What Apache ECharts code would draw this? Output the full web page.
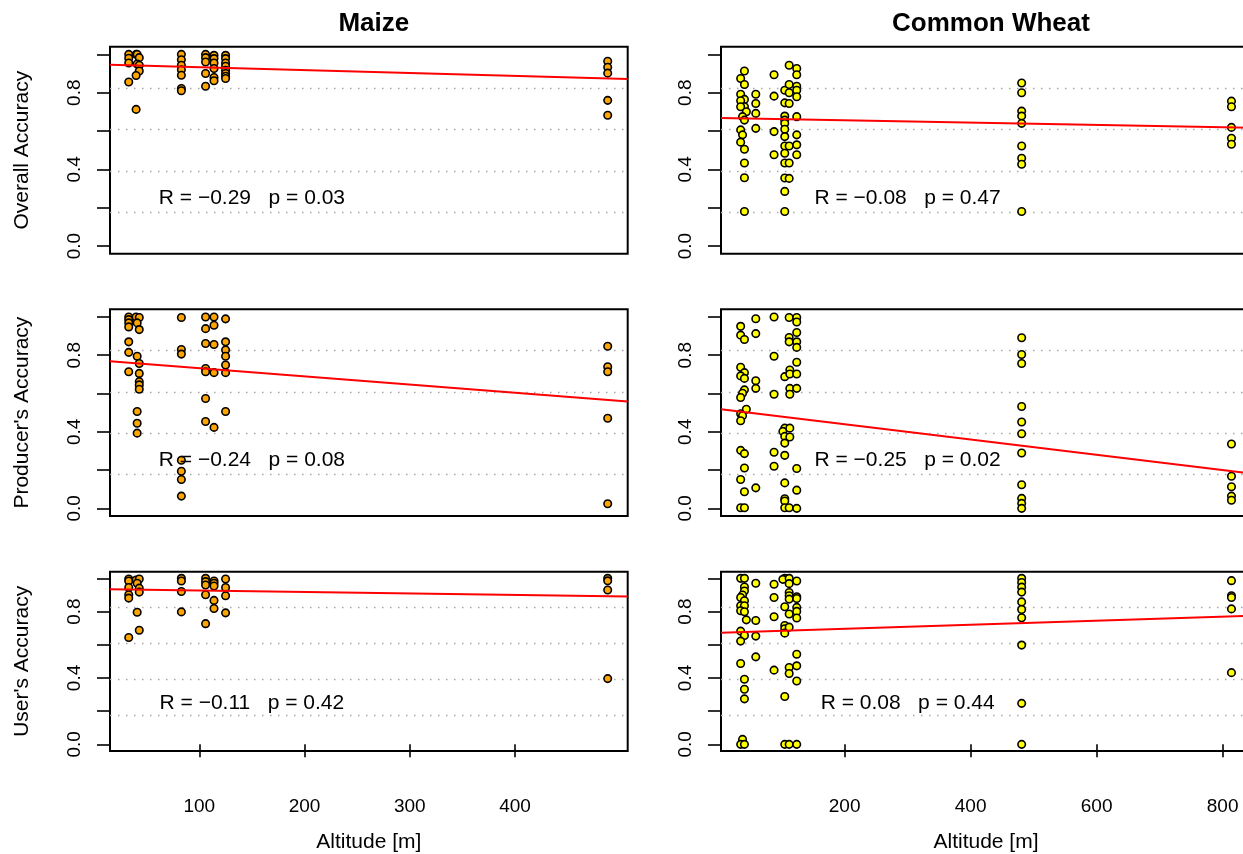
<!DOCTYPE html>
<html>
<head>
<meta charset="utf-8">
<script src="https://cdn.jsdelivr.net/npm/echarts@6/dist/echarts.min.js"></script>
<style>
  html, body { margin: 0; padding: 0; overflow: hidden; background: #ffffff; }
  #chart { width: 1262px; height: 854px; }
</style>
</head>
<body>
<div id="chart"></div>
<script>
// ---- data: [altitude (m), accuracy] per sample ----
const maizeOverall = [
  [33,1.0],[33,0.98],[33,0.955],[33,0.856],
  [40,1.0],[41,1.0],[43,0.983],[41,0.95],[43,0.943],[43,0.913],[40,0.89],[40,0.713],
  [83,1.0],[83,0.972],[83,0.943],[83,0.92],[83,0.891],[83,0.822],[83,0.81],
  [106,1.0],[106,0.983],[106,0.96],[106,0.9],[106,0.834],
  [114,0.995],[114,0.978],[114,0.955],[114,0.926],[114,0.879],[114,0.862],
  [125,0.995],[125,0.978],[125,0.955],[125,0.938],[125,0.917],[125,0.9],[125,0.886],[125,0.874],
  [488,0.964],[488,0.933],[488,0.902],[488,0.76],[488,0.682]
];
const maizeProducer = [
  [33,1.0],[33,0.986],[33,0.969],[33,0.948],[33,0.87],[33,0.815],[33,0.714],
  [40,1.0],[43,0.997],[41,0.969],[43,0.934],[41,0.795],[43,0.757],[43,0.705],[43,0.662],[43,0.645],[43,0.622],
  [41,0.506],[41,0.445],[41,0.393],
  [83,0.997],[83,0.83],[83,0.806],[83,0.251],[83,0.194],[83,0.151],[83,0.064],
  [106,1.0],[106,0.939],[106,0.861],[106,0.731],[106,0.714],[106,0.574],[106,0.454],
  [114,1.0],[114,0.957],[114,0.856],[114,0.709],[114,0.423],
  [125,0.99],[125,0.87],[125,0.827],[125,0.795],[125,0.749],[125,0.709],[125,0.506],
  [488,0.847],[488,0.74],[488,0.714],[488,0.471],[488,0.024]
];
const maizeUser = [
  [33,0.996],[33,0.984],[33,0.945],[33,0.901],[33,0.881],[33,0.644],
  [40,0.99],[43,0.996],[41,0.97],[43,0.941],[43,0.917],[41,0.796],[43,0.687],
  [83,1.0],[83,0.984],[83,0.921],[83,0.798],
  [106,1.0],[106,0.98],[106,0.96],[106,0.901],[106,0.727],
  [114,0.984],[114,0.97],[114,0.954],[114,0.867],[114,0.818],
  [125,0.996],[125,0.945],[125,0.895],[125,0.792],
  [488,1.0],[488,0.985],[488,0.93],[488,0.396]
];
const wheatOverall = [
  [41,0.913],[35,0.874],[41,0.843],[35,0.792],[41,0.765],[35,0.758],[41,0.727],[35,0.727],[44,0.701],
  [38,0.675],[41,0.657],[35,0.606],[38,0.58],[35,0.542],[41,0.505],[41,0.433],[41,0.356],[41,0.18],
  [59,0.792],[59,0.744],[59,0.692],[59,0.614],
  [88,0.894],[88,0.782],[88,0.597],[88,0.476],
  [105,0.813],[105,0.747],[105,0.678],[105,0.657],[105,0.64],[105,0.609],[105,0.571],[105,0.522],
  [105,0.484],[105,0.433],[105,0.355],[105,0.285],[105,0.18],
  [112,0.943],[112,0.843],[112,0.8],[112,0.744],[112,0.522],[112,0.433],[112,0.353],
  [124,0.926],[124,0.894],[124,0.834],[124,0.813],[124,0.779],[124,0.675],[124,0.58],[124,0.528],[124,0.476],
  [481,0.851],[481,0.8],[481,0.704],[481,0.678],[481,0.64],[481,0.522],[481,0.458],[481,0.427],[481,0.18],
  [814,0.756],[814,0.727],[814,0.619],[814,0.562],[814,0.531]
];
const wheatProducer = [
  [35,0.951],[35,0.905],[41,0.882],[35,0.737],[41,0.709],[35,0.692],[41,0.679],[41,0.619],[38,0.601],
  [35,0.579],[44,0.518],[35,0.494],[38,0.484],[35,0.458],[35,0.303],[41,0.286],[41,0.211],[35,0.151],
  [41,0.087],[35,0.003],[41,0.003],
  [59,0.991],[59,0.913],[59,0.667],[59,0.627],[59,0.107],
  [88,1.0],[88,0.795],[88,0.596],[88,0.293],[88,0.22],
  [105,0.688],[105,0.419],[102,0.402],[105,0.376],[105,0.341],[105,0.277],[105,0.133],[105,0.05],[105,0.038],[105,0.003],
  [112,0.997],[112,0.893],[112,0.87],[113,0.723],[113,0.702],[113,0.627],[113,0.596],[113,0.419],[113,0.373],[112,0.003],
  [124,0.997],[124,0.974],[124,0.919],[124,0.87],[124,0.841],[124,0.763],[124,0.702],[124,0.627],[124,0.208],[124,0.095],[124,0.0],
  [481,0.891],[481,0.804],[481,0.757],[481,0.532],[481,0.451],[481,0.39],[481,0.289],[481,0.123],[481,0.052],[481,0.026],[481,0.0],
  [814,0.336],[814,0.168],[814,0.113],[814,0.064],[814,0.042]
];
const wheatUser = [
  [35,1.0],[41,1.0],[41,0.948],[41,0.924],[38,0.9],[35,0.885],[41,0.865],[35,0.835],[41,0.835],[35,0.805],
  [41,0.799],[44,0.75],[35,0.682],[41,0.656],[35,0.622],[35,0.487],[41,0.392],[41,0.332],[41,0.274],
  [38,0.03],[35,0.0],[41,0.0],
  [59,0.97],[59,0.746],[59,0.652],[59,0.527],
  [88,0.964],[88,0.885],[88,0.769],[88,0.447],
  [105,1.0],[102,0.994],[105,0.829],[105,0.716],[105,0.696],[105,0.67],[105,0.288],[105,0.0],
  [112,1.0],[112,0.968],[112,0.915],[112,0.895],[112,0.875],[112,0.785],[112,0.706],[112,0.463],[112,0.427],[112,0.0],
  [124,0.984],[124,0.889],[124,0.879],[124,0.825],[124,0.801],[124,0.761],[124,0.543],[124,0.473],[124,0.382],[124,0.0],
  [481,1.0],[481,0.975],[481,0.947],[481,0.917],[481,0.858],[481,0.812],[481,0.763],[481,0.598],[481,0.247],[481,0.0],
  [814,0.986],[814,0.895],[814,0.885],[814,0.816],[814,0.432]
];

// linear fits (accuracy = intercept + slope * altitude), panel order: row by row, maize then wheat
const fitIntercept = [0.9483, 0.6682, 0.7755, 0.5195, 0.9364, 0.6715];
const fitSlope     = [-1.505e-4, -6.05e-5, -4.29e-4, -3.99e-4, -8.95e-5, 1.214e-4];
const corrR = ['\u22120.29', '\u22120.08', '\u22120.24', '\u22120.25', '\u22120.11', '0.08'];
const corrP = ['0.03', '0.47', '0.08', '0.02', '0.42', '0.44'];

const cropNames = ['Maize', 'Common Wheat'];
const metricNames = ['Overall Accuracy', "Producer's Accuracy", "User's Accuracy"];
const xTicksMaize = [100, 200, 300, 400];
const xTicksWheat = [200, 400, 600, 800];
const yTicks = [0, 0.2, 0.4, 0.6, 0.8, 1.0];
const yTickLabels = [0, 0.4, 0.8];
const xTitle = 'Altitude [m]';

// ---- layout ----
const FONT = '"Liberation Sans", Arial, Helvetica, sans-serif';
const panelData = [
  [maizeOverall, wheatOverall],
  [maizeProducer, wheatProducer],
  [maizeUser, wheatUser]
];
const colLeft = [110, 721];
const colWidth = [517.7, 530];
const rowTop = [46.7, 309.3, 571.7];
const rowHeight = [207, 206.7, 181.6];
const xRange = [[15.2, 507], [3.8, 845]];
const yRange = [-0.04, 1.04];
const pointFill = ['#FFA500', '#FFFF00'];
const noteX = [150, 300];
const noteY = 0.25;

const grids = [], xAxes = [], yAxes = [], series = [];

for (let r = 0; r < 3; r++) {
  for (let c = 0; c < 2; c++) {
    const g = grids.length;
    const k = r * 2 + c;
    const bottomRow = r === 2;
    grids.push({
      left: colLeft[c], top: rowTop[r], width: colWidth[c], height: rowHeight[r],
      show: true, borderColor: '#000', borderWidth: 2, backgroundColor: 'transparent'
    });
    const ticks = c === 0 ? xTicksMaize : xTicksWheat;
    xAxes.push({
      gridIndex: g, type: 'value', min: xRange[c][0], max: xRange[c][1],
      show: bottomRow,
      axisLine: { show: false },
      splitLine: { show: false },
      axisTick: { show: true, length: 13, customValues: ticks, lineStyle: { color: '#000', width: 1.6 } },
      axisLabel: { show: true, customValues: ticks, margin: 46, fontSize: 19, color: '#000', fontFamily: FONT },
      name: bottomRow ? xTitle : '', nameLocation: 'middle', nameGap: 81,
      nameTextStyle: { fontSize: 21, color: '#000', fontFamily: FONT }
    });
    // main accuracy axis
    yAxes.push({
      gridIndex: g, type: 'value', min: yRange[0], max: yRange[1],
      axisLine: { show: false },
      splitLine: { show: false },
      axisTick: { show: true, length: 13, customValues: yTicks, lineStyle: { color: '#000', width: 1.6 } },
      axisLabel: {
        show: true, customValues: yTickLabels, rotate: 90, margin: 26,
        fontSize: 19, color: '#000', fontFamily: FONT,
        formatter: v => v.toFixed(1)
      },
      name: c === 0 ? metricNames[r] : '', nameLocation: 'middle', nameRotate: 90, nameGap: 77,
      nameTextStyle: { fontSize: 21, color: '#000', fontFamily: FONT }
    });
    const yMain = yAxes.length - 1;
    // helper axis: dotted guides splitting the panel height into five bands
    yAxes.push({
      gridIndex: g, type: 'value', min: 0, max: 5, interval: 1, position: 'right',
      axisLine: { show: false }, axisTick: { show: false }, axisLabel: { show: false },
      splitLine: {
        show: true, showMinLine: false, showMaxLine: false,
        lineStyle: { type: [1.5, 6.5], color: '#a8a8a8', width: 1.3 }
      }
    });

    series.push({
      type: 'scatter', xAxisIndex: g, yAxisIndex: yMain,
      data: panelData[r][c], symbol: 'circle', symbolSize: 7.5,
      itemStyle: { color: pointFill[c], borderColor: '#000', borderWidth: 1.6, opacity: 1 },
      z: 3, silent: true
    });

    const x0 = xRange[c][0], x1 = xRange[c][1];
    series.push({
      type: 'line', xAxisIndex: g, yAxisIndex: yMain,
      data: [[x0, fitIntercept[k] + fitSlope[k] * x0], [x1, fitIntercept[k] + fitSlope[k] * x1]],
      symbol: 'none', clip: true,
      lineStyle: { color: '#FF0000', width: 2 },
      z: 4, silent: true
    });

    series.push({
      type: 'scatter', xAxisIndex: g, yAxisIndex: yMain,
      data: [[noteX[c], noteY]], symbolSize: 1,
      itemStyle: { color: 'rgba(0,0,0,0)', borderWidth: 0 },
      label: {
        show: true, position: 'inside',
        formatter: 'R = ' + corrR[k] + '   p = ' + corrP[k],
        fontSize: 21, color: '#000000', opacity: 1,
        textBorderWidth: 0, textBorderColor: 'transparent',
        fontFamily: FONT
      },
      z: 5, silent: true
    });
  }
}

const titles = cropNames.map((name, c) => ({
  text: name,
  left: colLeft[c] + colWidth[c] / 2,
  top: 6,
  textAlign: 'center',
  textStyle: { fontSize: 26, fontWeight: 'bold', color: '#000', fontFamily: FONT }
}));

const chart = echarts.init(document.getElementById('chart'), null, { renderer: 'canvas' });
chart.setOption({
  animation: false,
  backgroundColor: '#ffffff',
  title: titles,
  grid: grids,
  xAxis: xAxes,
  yAxis: yAxes,
  series: series
});
</script>
</body>
</html>
